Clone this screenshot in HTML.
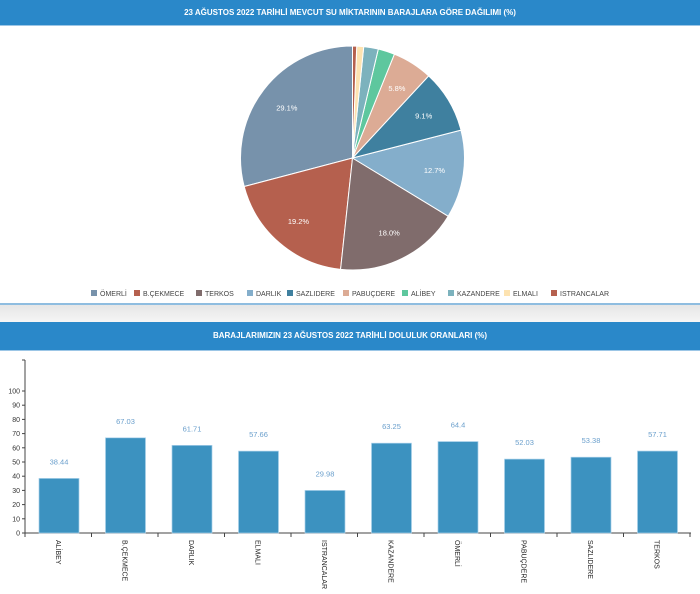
<!DOCTYPE html>
<html><head><meta charset="utf-8"><style>
body{margin:0;width:700px;height:594px;background:#fff;font-family:"Liberation Sans",sans-serif;overflow:hidden;position:relative}
.hdr{position:absolute;left:0;width:700px;background:#2a88c9;color:#fff;font-weight:bold;font-size:8px;text-align:center;}
</style></head><body>
<div class="hdr" style="top:0;height:25px;line-height:25px;border-bottom:1px solid #9cc6e6">23 AĞUSTOS 2022 TARİHLİ MEVCUT SU MİKTARININ BARAJLARA GÖRE DAĞILIMI (%)</div>
<div style="position:absolute;top:303px;left:0;width:700px;height:2px;background:#8fbde0"></div>
<div style="position:absolute;top:305px;left:0;width:700px;height:17px;background:linear-gradient(#e6e6e6,#f5f5f5)"></div>
<div class="hdr" style="top:322px;height:28px;line-height:28px;border-bottom:1px solid #9cc6e6">BARAJLARIMIZIN 23 AĞUSTOS 2022 TARİHLİ DOLULUK ORANLARI (%)</div>
<svg id="s" width="700" height="594" style="position:absolute;left:0;top:0" font-family="Liberation Sans, sans-serif"></svg>
<script>
var s=document.getElementById('s'),h='';
var cx=352.5,cy=158,r=112;
var d=[['ÖMERLİ',29.1,'#7792ab'],['B.ÇEKMECE',19.2,'#b5604e'],['TERKOS',18.0,'#806c6c'],['DARLIK',12.7,'#84aecb'],['SAZLIDERE',9.1,'#3f809f'],['PABUÇDERE',5.8,'#dcab95'],['ALİBEY',2.4,'#5ec79e'],['KAZANDERE',2.1,'#7cb2bd'],['ELMALI',1.0,'#fde3b1'],['ISTRANCALAR',0.6,'#b5604e']];
var a=0;
function P(t,rr){return [cx+rr*Math.sin(t),cy-rr*Math.cos(t)];}
for(var i=0;i<d.length;i++){var v=d[i][1]/100*2*Math.PI;var a0=a,a1=a-v;a=a1;
var p0=P(a0,r),p1=P(a1,r);
h+='<path d="M'+cx+','+cy+'L'+p0[0]+','+p0[1]+'A'+r+','+r+' 0 '+(v>Math.PI?1:0)+' 0 '+p1[0]+','+p1[1]+'Z" fill="'+d[i][2]+'" stroke="#fff" stroke-width="1"/>';
if(d[i][1]>5){var m=P((a0+a1)/2,r*0.74);h+='<text x="'+m[0]+'" y="'+(m[1]+3)+'" fill="#fff" font-size="7.5" text-anchor="middle">'+d[i][1].toFixed(1)+'%</text>';}}
var lx=[91,134,196,247,287,343,402,448,504,551];
for(var i=0;i<d.length;i++){h+='<rect x="'+lx[i]+'" y="290" width="6" height="6" fill="'+d[i][2]+'"/><text x="'+(lx[i]+9)+'" y="296" font-size="7" fill="#444">'+d[i][0]+'</text>';}
var y0=533,k=1.42;
h+='<line x1="25" y1="360" x2="25" y2="533" stroke="#444"/><line x1="22" y1="360" x2="25" y2="360" stroke="#444"/><line x1="25" y1="533" x2="691" y2="533" stroke="#444"/>';
for(var t=0;t<=100;t+=10){var y=y0-t*k;h+='<line x1="22" y1="'+y+'" x2="25" y2="'+y+'" stroke="#444"/><text x="20" y="'+(y+2.5)+'" font-size="7" fill="#333" text-anchor="end">'+t+'</text>';}
var b=[['ALİBEY',38.44],['B.ÇEKMECE',67.03],['DARLIK',61.71],['ELMALI',57.66],['ISTRANCALAR',29.98],['KAZANDERE',63.25],['ÖMERLİ',64.4],['PABUÇDERE',52.03],['SAZLIDERE',53.38],['TERKOS',57.71]];
for(var i=0;i<b.length;i++){var x=39+66.5*i,hh=b[i][1]*k;
h+='<rect x="'+x+'" y="'+(y0-hh)+'" width="40" height="'+hh+'" fill="#3c92c0" stroke="#a9d0ea" stroke-width="0.7"/>';
h+='<text x="'+(x+20)+'" y="'+(y0-hh-14)+'" font-size="7.5" fill="#6a9fcc" text-anchor="middle">'+b[i][1]+'</text>';
h+='<line x1="'+(25+66.5*(i+1))+'" y1="533" x2="'+(25+66.5*(i+1))+'" y2="537" stroke="#444"/>';
h+='<text transform="translate('+(x+17)+',540) rotate(90)" font-size="7" fill="#222">'+b[i][0]+'</text>';}
h+='<line x1="25" y1="533" x2="25" y2="537" stroke="#444"/>';
s.innerHTML=h;
</script>
</body></html>
